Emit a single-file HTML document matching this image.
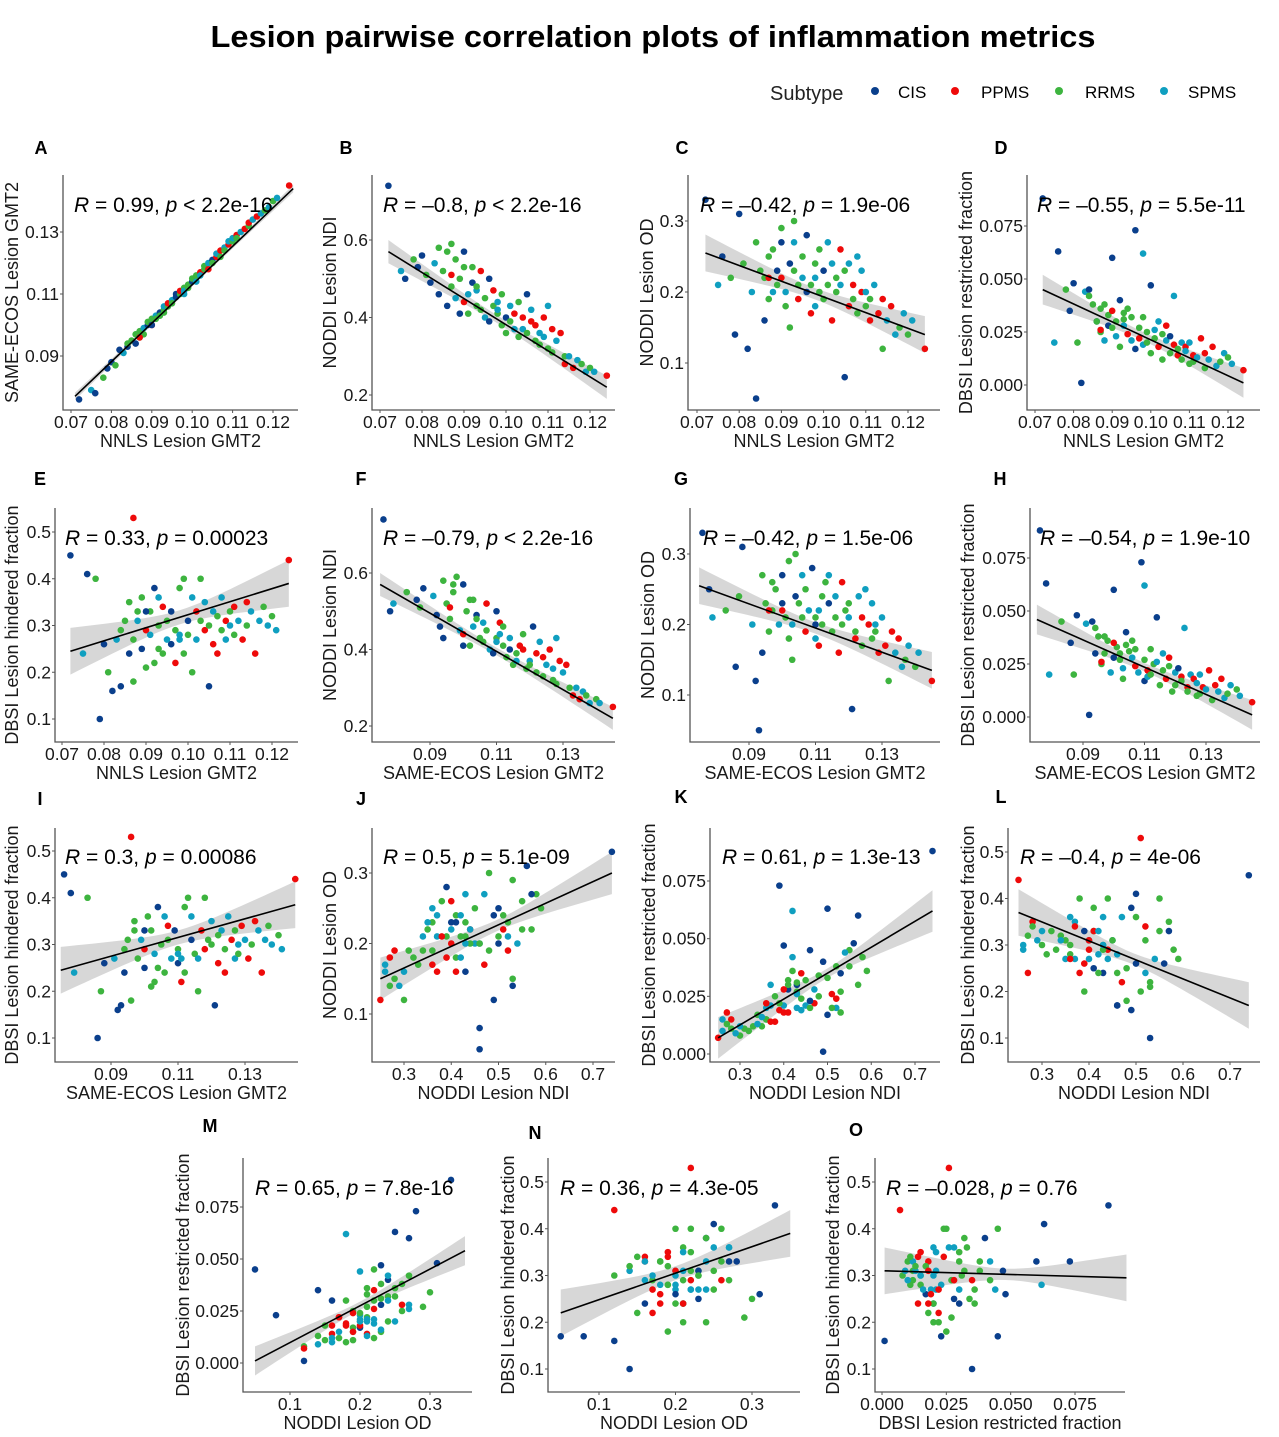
<!DOCTYPE html>
<html><head><meta charset="utf-8"><style>
body{margin:0;background:#fff}
svg{display:block;font-family:"Liberation Sans",sans-serif}
</style></head><body>
<svg id="chart" width="1279" height="1437" viewBox="0 0 1279 1437" xmlns="http://www.w3.org/2000/svg">
<text x="653" y="47" text-anchor="middle" font-size="31" font-weight="bold" textLength="885" lengthAdjust="spacingAndGlyphs">Lesion pairwise correlation plots of inflammation metrics</text>
<g>
<text x="770" y="100" font-size="20" fill="#222">Subtype</text>
<circle cx="875" cy="91" r="4" fill="#0a3f8c"/><text x="898" y="98" font-size="17">CIS</text>
<circle cx="955" cy="91" r="4" fill="#ee0a0a"/><text x="981" y="98" font-size="17">PPMS</text>
<circle cx="1059" cy="91" r="4" fill="#3db43f"/><text x="1085" y="98" font-size="17">RRMS</text>
<circle cx="1164" cy="91" r="4" fill="#0f9fc0"/><text x="1188" y="98" font-size="17">SPMS</text>
</g>
</svg>
<script>
// lesion-level data: nnls GMT2, same-ecos GMT2, ndi, od, restricted, hindered, subtype
const nnls=[.072,.075,.076,.078,.079,.080,.081,.082,.083,.084,.084,.085,.086,.086,.087,.087,.088,.088,.089,.089,.090,.090,.091,.091,.092,.092,.093,.093,.094,.094,.095,.095,.096,.096,.097,.097,.098,.098,.099,.099,.100,.100,.101,.101,.102,.102,.103,.103,.104,.104,.105,.105,.106,.106,.107,.107,.108,.108,.109,.109,.110,.110,.111,.111,.112,.113,.114,.114,.115,.116,.117,.118,.119,.120,.124,.121,.093,.090,.098,.087];
const sameEcos=[.076,.079,.078,.083,.086,.088,.087,.092,.091,.093,.094,.095,.094,.097,.098,.096,.099,.097,.100,.101,.100,.102,.103,.102,.104,.103,.105,.106,.106,.107,.108,.107,.110,.109,.110,.111,.112,.111,.113,.112,.114,.115,.114,.116,.117,.116,.118,.119,.118,.120,.121,.120,.122,.123,.122,.124,.125,.124,.126,.127,.127,.128,.129,.128,.130,.131,.132,.133,.134,.135,.136,.137,.138,.140,.145,.141,.104,.100,.110,.096];
const ndi=[.74,.52,.50,.55,.53,.56,.51,.49,.54,.46,.58,.52,.43,.57,.59,.48,.45,.55,.41,.50,.44,.53,.46,.41,.49,.53,.43,.47,.42,.52,.40,.45,.50,.39,.43,.47,.41,.44,.38,.46,.40,.36,.43,.39,.41,.37,.44,.35,.40,.37,.46,.36,.39,.42,.34,.38,.36,.33,.40,.35,.32,.43,.37,.31,.34,.36,.30,.28,.30,.27,.29,.28,.26,.27,.25,.26,.48,.57,.42,.51];
const od=[.33,.21,.25,.22,.14,.31,.24,.12,.20,.05,.27,.23,.16,.22,.25,.19,.20,.26,.23,.21,.22,.29,.20,.18,.24,.15,.23,.27,.21,.19,.22,.25,.20,.28,.21,.17,.24,.22,.26,.20,.23,.19,.27,.21,.16,.24,.20,.22,.26,.21,.08,.23,.18,.24,.19,.21,.25,.17,.20,.23,.18,.20,.16,.19,.21,.17,.12,.19,.16,.18,.14,.15,.17,.14,.12,.16,.30,.27,.18,.22];
const restr=[.088,.020,.063,.045,.035,.048,.020,.001,.044,.045,.042,.038,.030,.030,.036,.025,.021,.038,.028,.033,.035,.027,.023,.030,.040,.018,.031,.028,.036,.024,.021,.032,.017,.073,.027,.022,.032,.019,.025,.020,.047,.015,.026,.022,.018,.030,.024,.012,.028,.021,.023,.015,.019,.042,.017,.014,.020,.012,.018,.016,.010,.020,.014,.011,.013,.022,.008,.015,.012,.018,.009,.011,.015,.013,.007,.010,.034,.060,.062,.026];
const hind=[.45,.24,.41,.40,.10,.26,.20,.16,.27,.17,.29,.31,.24,.35,.27,.18,.31,.33,.25,.36,.29,.21,.28,.33,.38,.22,.30,.36,.24,.34,.27,.31,.26,.33,.29,.22,.38,.27,.40,.24,.31,.28,.36,.20,.33,.27,.40,.31,.29,.35,.17,.30,.26,.33,.32,.24,.36,.29,.31,.27,.33,.30,.34,.28,.31,.27,.30,.35,.33,.24,.31,.34,.30,.32,.44,.29,.25,.33,.28,.53];
const subtype="CSCRCCRCSCRRCRRRSRCRPRSRCRRSRPSRCCRPRSRRCRSRPSRRPSCRPSRPSRPSRSPRSPRPSPSRSRPSRCSP";
const palette={C:"#0a3f8c",P:"#ee0a0a",R:"#3db43f",S:"#0f9fc0"};
const vars={g:nnls,s:sameEcos,n:ndi,o:od,r:restr,h:hind};
// fitted line end values per panel [x0,y0,x1,y1] and band half-widths [mid,end]
const fitA=[.071,.077,.125,.144],bandA=[.0005,.0012];
const fitB=[.072,.57,.124,.22],bandB=[.01,.03];
const fitC=[.072,.255,.124,.14],bandC=[.008,.026];
const fitD=[.072,.045,.124,.001],bandD=[.002,.007];
const fitE=[.072,.245,.124,.39],bandE=[.015,.05];
const fitF=[.075,.57,.145,.22],bandF=[.01,.03];
const fitG=[.075,.255,.145,.135],bandG=[.008,.026];
const fitH=[.075,.046,.145,.001],bandH=[.002,.007];
const fitI=[.075,.245,.145,.385],bandI=[.015,.05];
const fitJ=[.25,.15,.74,.30],bandJ=[.008,.03];
const fitK=[.25,.007,.74,.062],bandK=[.002,.009];
const fitL=[.25,.37,.74,.17],bandL=[.012,.05];
const fitM=[.05,.001,.35,.054],bandM=[.002,.007];
const fitN=[.05,.22,.35,.39],bandN=[.015,.05];
const fitO=[.001,.31,.095,.295],bandO=[.012,.05];
const statLabels=["A|R|0.99|<|2.2e-16","B|R|–0.8|<|2.2e-16","C|R|–0.42|=|1.9e-06","D|R|–0.55|=|5.5e-11","E|R|0.33|=|0.00023","F|R|–0.79|<|2.2e-16","G|R|–0.42|=|1.5e-06","H|R|–0.54|=|1.9e-10","I|R|0.3|=|0.00086","J|R|0.5|=|5.1e-09","K|R|0.61|=|1.3e-13","L|R|–0.4|=|4e-06","M|R|0.65|=|7.8e-16","N|R|0.36|=|4.3e-05","O|R|–0.028|=|0.76"];
const nnlsTicks=[.07,.08,.09,.10,.11,.12],ecosTicks=[.09,.11,.13],ndiTicks=[.3,.4,.5,.6,.7],odTicks=[.1,.2,.3],restrTicks=[0,.025,.05,.075],hindTicks=[.1,.2,.3,.4,.5],ndiYTicks=[.2,.4,.6];

const NL="NNLS Lesion GMT2",EL="SAME-ECOS Lesion GMT2",NDL="NODDI Lesion NDI",ODL="NODDI Lesion OD",RL="DBSI Lesion restricted fraction",HL="DBSI Lesion hindered fraction";
const f2=v=>v.toFixed(2),f1=v=>v.toFixed(1),f3=v=>v.toFixed(3);
const panels=[
{id:"A",x:"g",y:"s",xl:NL,yl:EL,L:63,R:298,T:175,B:410,xa:[.07,71,.12,273],ya:[.09,356,.13,232],xt:nnlsTicks,yt:ecosTicks,xf:f2,yf:f2,fit:fitA,band:bandA,lx:41,ly:148,yx:12,sx:74,sy:212},
{id:"B",x:"g",y:"n",xl:NL,yl:NDL,L:372,R:615,T:175,B:410,xa:[.07,380,.12,590],ya:[.2,395,.6,240],xt:nnlsTicks,yt:ndiYTicks,xf:f2,yf:f1,fit:fitB,band:bandB,lx:346,ly:148,yx:330,sx:383,sy:212},
{id:"C",x:"g",y:"o",xl:NL,yl:ODL,L:688,R:940,T:175,B:410,xa:[.07,697,.12,908],ya:[.1,363,.3,221],xt:nnlsTicks,yt:odTicks,xf:f2,yf:f1,fit:fitC,band:bandC,lx:682,ly:148,yx:647,sx:700,sy:212},
{id:"D",x:"g",y:"r",xl:NL,yl:RL,L:1027,R:1260,T:175,B:410,xa:[.07,1035,.12,1228],ya:[0,385,.075,226],xt:nnlsTicks,yt:restrTicks,xf:f2,yf:f3,fit:fitD,band:bandD,lx:1001,ly:148,yx:966,sx:1037,sy:212},
{id:"E",x:"g",y:"h",xl:NL,yl:HL,L:55,R:298,T:508,B:742,xa:[.07,62,.12,272],ya:[.1,719,.5,532],xt:nnlsTicks,yt:hindTicks,xf:f2,yf:f1,fit:fitE,band:bandE,lx:40,ly:479,yx:12,sx:65,sy:545},
{id:"F",x:"s",y:"n",xl:EL,yl:NDL,L:372,R:615,T:508,B:742,xa:[.09,430,.13,563],ya:[.2,726,.6,573],xt:ecosTicks,yt:ndiYTicks,xf:f2,yf:f1,fit:fitF,band:bandF,lx:361,ly:479,yx:330,sx:383,sy:545},
{id:"G",x:"s",y:"o",xl:EL,yl:ODL,L:690,R:940,T:508,B:742,xa:[.09,749,.13,882],ya:[.1,695,.3,554],xt:ecosTicks,yt:odTicks,xf:f2,yf:f1,fit:fitG,band:bandG,lx:681,ly:479,yx:648,sx:703,sy:545},
{id:"H",x:"s",y:"r",xl:EL,yl:RL,L:1030,R:1260,T:508,B:742,xa:[.09,1083,.13,1206],ya:[0,717,.075,558],xt:ecosTicks,yt:restrTicks,xf:f2,yf:f3,fit:fitH,band:bandH,lx:1000,ly:479,yx:968,sx:1040,sy:545},
{id:"I",x:"s",y:"h",xl:EL,yl:HL,L:55,R:298,T:828,B:1062,xa:[.09,111,.13,245],ya:[.1,1038,.5,851],xt:ecosTicks,yt:hindTicks,xf:f2,yf:f1,fit:fitI,band:bandI,lx:40,ly:799,yx:12,sx:65,sy:864},
{id:"J",x:"n",y:"o",xl:NDL,yl:ODL,L:372,R:615,T:828,B:1062,xa:[.3,404,.7,593],ya:[.1,1014,.3,873],xt:ndiTicks,yt:odTicks,xf:f1,yf:f1,fit:fitJ,band:bandJ,lx:361,ly:799,yx:330,sx:383,sy:864},
{id:"K",x:"n",y:"r",xl:NDL,yl:RL,L:710,R:940,T:828,B:1062,xa:[.3,740,.7,915],ya:[0,1054,.075,881],xt:ndiTicks,yt:restrTicks,xf:f1,yf:f3,fit:fitK,band:bandK,lx:681,ly:797,yx:649,sx:722,sy:864},
{id:"L",x:"n",y:"h",xl:NDL,yl:HL,L:1008,R:1260,T:828,B:1062,xa:[.3,1042,.7,1230],ya:[.1,1038,.5,852],xt:ndiTicks,yt:hindTicks,xf:f1,yf:f1,fit:fitL,band:bandL,lx:1001,ly:797,yx:968,sx:1020,sy:864},
{id:"M",x:"o",y:"r",xl:ODL,yl:RL,L:243,R:472,T:1158,B:1392,xa:[.1,290,.3,430],ya:[0,1363,.075,1207],xt:odTicks,yt:restrTicks,xf:f1,yf:f3,fit:fitM,band:bandM,lx:210,ly:1126,yx:183,sx:255,sy:1195},
{id:"N",x:"o",y:"h",xl:ODL,yl:HL,L:548,R:800,T:1158,B:1392,xa:[.1,599,.3,752],ya:[.1,1369,.5,1182],xt:odTicks,yt:hindTicks,xf:f1,yf:f1,fit:fitN,band:bandN,lx:535,ly:1133,yx:508,sx:560,sy:1195},
{id:"O",x:"r",y:"h",xl:RL,yl:HL,L:875,R:1125,T:1158,B:1392,xa:[0,882,.075,1075],ya:[.1,1369,.5,1182],xt:restrTicks,yt:hindTicks,xf:f3,yf:f1,fit:fitO,band:bandO,lx:856,ly:1130,yx:833,sx:886,sy:1195}
];
const NS="http://www.w3.org/2000/svg",svg=document.getElementById("chart");
function mk(tag,attrs,parent){const e=document.createElementNS(NS,tag);for(const k in attrs)e.setAttribute(k,attrs[k]);parent.appendChild(e);return e;}
panels.forEach((p,pi)=>{
  const g=mk("g",{},svg);
  
  
  const sx=v=>p.xa[1]+(v-p.xa[0])*(p.xa[3]-p.xa[1])/(p.xa[2]-p.xa[0]);
  const sy=v=>p.ya[1]+(v-p.ya[0])*(p.ya[3]-p.ya[1])/(p.ya[2]-p.ya[0]);
  const lab=mk("text",{x:p.lx,y:p.ly+6,"font-size":18,"font-weight":"bold","text-anchor":"middle"},g);lab.textContent=p.id;
  
  
  const [x0,y0,x1,y1]=p.fit,[wm,we]=p.band,xm=(x0+x1)/2,hr=(x1-x0)/2;
  const up=[],dn=[];
  for(let i=0;i<=30;i++){const x=x0+(x1-x0)*i/30,y=y0+(y1-y0)*i/30,t=(x-xm)/hr,w=Math.sqrt(wm*wm+(we*we-wm*wm)*t*t);up.push(sx(x)+","+sy(y+w));dn.unshift(sx(x)+","+sy(y-w));}
  const band=mk("polygon",{points:up.concat(dn).join(" "),fill:"#bdbdbd","fill-opacity":0.6},g);
  
  
  const X=vars[p.x],Y=vars[p.y];
  for(let i=0;i<X.length;i++){
    const c=mk("circle",{cx:sx(X[i]),cy:sy(Y[i]),r:3.3,fill:palette[subtype[i]]},g);
    
    
  }
  const ln=mk("line",{x1:sx(x0),y1:sy(y0),x2:sx(x1),y2:sy(y1),stroke:"#000","stroke-width":1.6},g);
  
  
  const ax=mk("path",{d:`M${p.L},${p.T}V${p.B}H${p.R}`,fill:"none",stroke:"#555","stroke-width":1.3},g);
  
  
  p.xt.forEach(v=>{const t=mk("text",{x:sx(v),y:p.B+18,"font-size":17.5,"text-anchor":"middle",fill:"#1a1a1a"},g);t.textContent=p.xf(v);
    
    
    mk("line",{x1:sx(v),x2:sx(v),y1:p.B,y2:p.B+3,stroke:"#555"},g);});
  p.yt.forEach(v=>{const t=mk("text",{x:p.L-4,y:sy(v)+6,"font-size":17.5,"text-anchor":"end",fill:"#1a1a1a"},g);t.textContent=p.yf(v);
    
    
    mk("line",{x1:p.L-3,x2:p.L,y1:sy(v),y2:sy(v),stroke:"#555"},g);});
  const xt=mk("text",{x:(p.L+p.R)/2,y:p.B+37,"font-size":18,"text-anchor":"middle",fill:"#1a1a1a"},g);xt.textContent=p.xl;
  
  
  const yc=(p.T+p.B)/2;
  const yt=mk("text",{x:p.yx,y:yc,"font-size":18,"text-anchor":"middle",fill:"#1a1a1a",transform:`rotate(-90 ${p.yx} ${yc}) translate(0 6)`},g);yt.textContent=p.yl;
  
  
  const s=statLabels[pi].split("|");
  const st=mk("text",{x:p.sx,y:p.sy,"font-size":21,fill:"#000"},g);
  
  
  st.innerHTML=`<tspan font-style="italic">${s[1]}</tspan> = ${s[2]}, <tspan font-style="italic">p</tspan> ${s[3]} ${s[4]}`;
});
</script>
</body></html>
